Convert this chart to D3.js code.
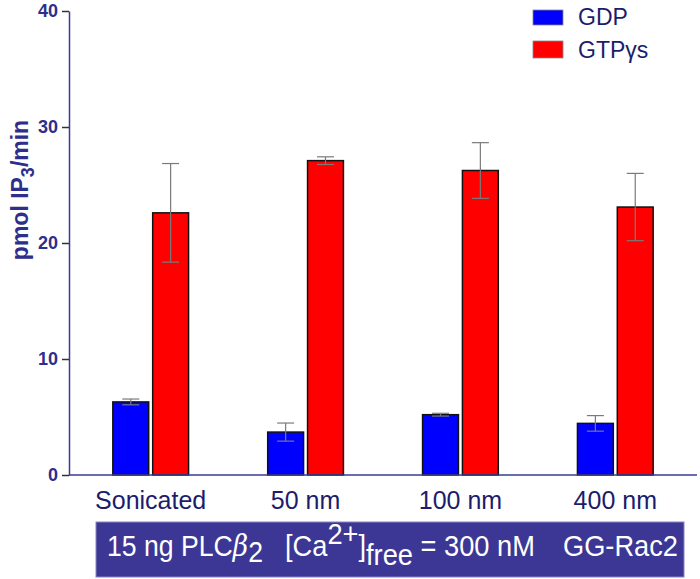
<!DOCTYPE html>
<html>
<head>
<meta charset="utf-8">
<script src="https://cdn.jsdelivr.net/npm/d3@7"></script>
<style>
  body { margin: 0; background: #fff; }
  svg { display: block; font-family: "Liberation Sans", Arial, sans-serif; }
</style>
</head>
<body>
<svg id="chart" width="700" height="579"></svg>
<script>
// ---- data ----
const categories = ["Sonicated", "50 nm", "100 nm", "400 nm"];
const seriesNames = ["GDP", "GTPγs"];
const gdpValues = [6.3, 3.7, 5.2, 4.45];
const gdpErrors = [0.25, 0.78, 0.12, 0.67];
const gtpValues = [22.6, 27.1, 26.25, 23.1];
const gtpErrors = [4.25, 0.33, 2.4, 2.9];
const yTicks = [0, 10, 20, 30, 40];
const seriesColors = ["#0000ff", "#ff0000"];

const rows = categories.map((c, i) => ({
  cat: c,
  vals: [
    { s: seriesNames[0], v: gdpValues[i], e: gdpErrors[i] },
    { s: seriesNames[1], v: gtpValues[i], e: gtpErrors[i] }
  ]
}));

const svg = d3.select("#chart");
const axisColor = "#3a3a96";
const textNavy = "#1c1c6c";

const x = d3.scaleBand().domain(categories).range([69, 697])
  .paddingInner(0.511).paddingOuter(0.283);
const xs = d3.scaleBand().domain(seriesNames).range([0, x.bandwidth()])
  .paddingInner(0.1).paddingOuter(0);
const y = d3.scaleLinear().domain([0, 40]).range([475, 11]);
const color = d3.scaleOrdinal().domain(seriesNames).range(seriesColors);

// bars
const g = svg.append("g");
const groups = g.selectAll("g.grp").data(rows).join("g")
  .attr("transform", d => `translate(${x(d.cat)},0)`);
groups.selectAll("rect").data(d => d.vals).join("rect")
  .attr("x", d => xs(d.s))
  .attr("width", xs.bandwidth())
  .attr("y", d => y(d.v))
  .attr("height", d => y(0) - y(d.v))
  .attr("fill", d => color(d.s))
  .attr("stroke", "#111")
  .attr("stroke-width", 1.5);

// error bars
const capW = 17;
const eb = groups.selectAll("g.eb").data(d => d.vals).join("g").attr("class", "eb")
  .attr("stroke", "#7a7a7a").attr("stroke-width", 1.2);
eb.append("line")
  .attr("x1", d => xs(d.s) + xs.bandwidth() / 2).attr("x2", d => xs(d.s) + xs.bandwidth() / 2)
  .attr("y1", d => y(d.v + d.e)).attr("y2", d => y(d.v - d.e));
eb.append("line")
  .attr("x1", d => xs(d.s) + xs.bandwidth() / 2 - capW / 2).attr("x2", d => xs(d.s) + xs.bandwidth() / 2 + capW / 2)
  .attr("y1", d => y(d.v + d.e)).attr("y2", d => y(d.v + d.e));
eb.append("line")
  .attr("x1", d => xs(d.s) + xs.bandwidth() / 2 - capW / 2).attr("x2", d => xs(d.s) + xs.bandwidth() / 2 + capW / 2)
  .attr("y1", d => y(d.v - d.e)).attr("y2", d => y(d.v - d.e));

// y axis
const yAxis = svg.append("g").attr("transform", "translate(69,0)")
  .call(d3.axisLeft(y).tickValues(yTicks).tickSize(7).tickSizeOuter(0).tickPadding(4));
yAxis.select(".domain").attr("stroke", axisColor).attr("stroke-width", 1.5);
yAxis.selectAll(".tick line").attr("stroke", "#333").attr("stroke-width", 1.5);
yAxis.selectAll(".tick text").attr("fill", "#2e2e8c").attr("font-size", 18)
  .attr("font-weight", "bold").attr("font-family", "Liberation Sans, Arial, sans-serif");

// x axis baseline
svg.append("line").attr("x1", 69).attr("x2", 697).attr("y1", y(0)).attr("y2", y(0))
  .attr("stroke", axisColor).attr("stroke-width", 1.5);

// category labels
svg.append("g").selectAll("text").data(categories).join("text")
  .attr("x", d => x(d) + x.bandwidth() / 2)
  .attr("y", 509)
  .attr("text-anchor", "middle")
  .attr("font-size", 25)
  .attr("fill", textNavy)
  .text(d => d);

// y label
const yl = svg.append("text")
  .attr("transform", "translate(28,190) rotate(-90)")
  .attr("text-anchor", "middle")
  .attr("font-size", 23).attr("font-weight", "bold").attr("fill", "#2e2e8c");
yl.append("tspan").text("pmol IP");
yl.append("tspan").attr("dy", 6).attr("font-size", 18).text("3");
yl.append("tspan").attr("dy", -6).text("/min");

// legend
const leg = svg.append("g");
seriesNames.forEach((s, i) => {
  const ly = [10, 41][i];
  const lh = [15, 17][i];
  leg.append("rect").attr("x", 533).attr("y", ly).attr("width", 30).attr("height", lh)
    .attr("fill", color(s)).attr("stroke", "#888").attr("stroke-width", 0.8);
  leg.append("text").attr("x", 578).attr("y", ly + lh - 0.5)
    .attr("font-size", 23).attr("fill", textNavy).text(s);
});

// bottom annotation box
svg.append("rect").attr("x", 96).attr("y", 522).attr("width", 588).attr("height", 55)
  .attr("fill", "#3c3794").attr("stroke", "#8a86c0").attr("stroke-width", 1);

const fs = 30;
function fitX(sel, x0, w) {
  const bw = sel.node().getBBox().width;
  sel.attr("transform", `translate(${x0},0) scale(${w / bw},1)`);
}
const t1 = svg.append("text").attr("x", 0).attr("y", 556).attr("font-size", fs).attr("fill", "#fff");
t1.append("tspan").text("15 ng PLC");
t1.append("tspan").attr("font-style", "italic").attr("font-family", "DejaVu Serif, serif").text("β");
t1.append("tspan").attr("dy", 6).text("2");
fitX(t1, 107, 156);

const t2 = svg.append("text").attr("x", 0).attr("y", 556).attr("font-size", fs).attr("fill", "#fff");
t2.append("tspan").text("[Ca");
t2.append("tspan").attr("dy", -12).text("2+");
t2.append("tspan").attr("dy", 12).text("]");
t2.append("tspan").attr("dy", 9).text("free");
t2.append("tspan").attr("dy", -9).text(" = 300 nM");
fitX(t2, 285, 250);

const t3 = svg.append("text").attr("x", 0).attr("y", 556).attr("font-size", fs).attr("fill", "#fff");
t3.text("GG-Rac2");
fitX(t3, 563, 115);
</script>
</body>
</html>
